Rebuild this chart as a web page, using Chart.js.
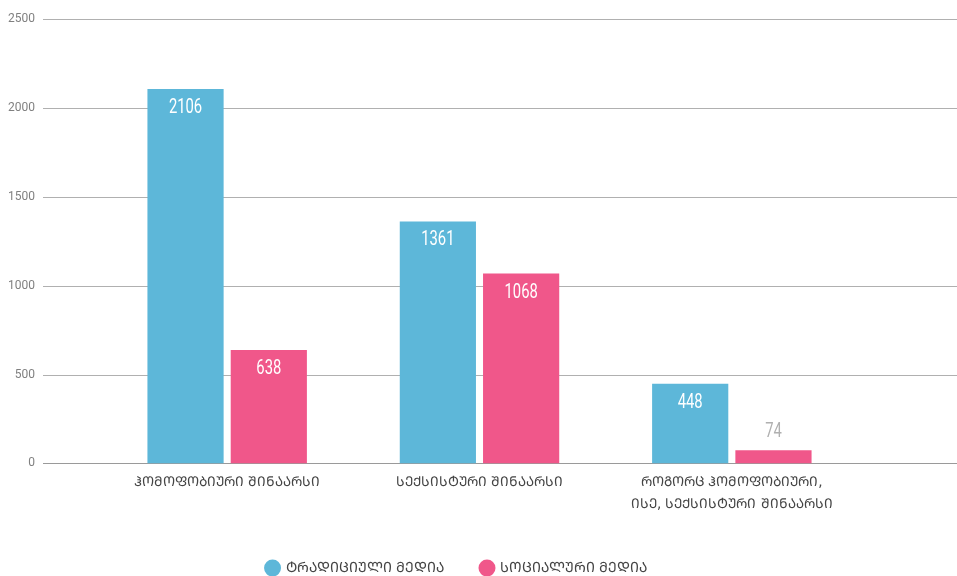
<!DOCTYPE html>
<html>
<head>
<meta charset="utf-8">
<script src="https://cdn.jsdelivr.net/npm/chart.js@4/dist/chart.umd.min.js"></script>
<style>
html,body{margin:0;padding:0;background:#fff;}
#wrap{width:957px;height:576px;position:relative;}
</style>
</head>
<body>
<div id="wrap"><canvas id="c" width="957" height="576"></canvas></div>
<script>
const categories = [
  "ჰომოფობიური შინაარსი",
  "სექსისტური შინაარსი",
  ["როგორც ჰომოფობიური,", "ისე, სექსისტური შინაარსი"]
];
const seriesNames = ["ტრადიციული მედია", "სოციალური მედია"];
const traditionalMedia = [2106, 1361, 448];
const socialMedia = [638, 1068, 74];
const yTicks = [0, 500, 1000, 1500, 2000, 2500];

const up = s => Array.isArray(s) ? s.map(x => x.toUpperCase()) : s.toUpperCase();
const numFont = "Roboto, 'Liberation Sans', sans-serif";
const geoFont = "'DejaVu Sans', 'Noto Sans', sans-serif";

const fullGrid = {
  id: 'fullGrid',
  beforeDatasetsDraw(chart) {
    const y = chart.scales.y;
    const ctx = chart.ctx;
    ctx.save();
    ctx.lineWidth = 1;
    y.ticks.forEach(t => {
      const py = Math.round(y.getPixelForValue(t.value)) + 0.5;
      ctx.strokeStyle = t.value === 0 ? '#9a9a9a' : '#b0b0b0';
      ctx.beginPath();
      ctx.moveTo(43, py);
      ctx.lineTo(chart.width, py);
      ctx.stroke();
    });
    ctx.restore();
  }
};

const legendShift = {
  id: 'legendShift',
  afterLayout(chart) {
    if (chart.legend) { chart.legend.left += 28; chart.legend.right += 28; }
  }
};

const valueLabels = {
  id: 'valueLabels',
  afterDatasetsDraw(chart) {
    const ctx = chart.ctx;
    chart.data.datasets.forEach((ds, di) => {
      const meta = chart.getDatasetMeta(di);
      meta.data.forEach((bar, i) => {
        const h = bar.base - bar.y;
        const inside = h > 40;
        const ty = inside ? bar.y + 19 : bar.y - 18;
        ctx.save();
        ctx.translate(bar.x, ty);
        ctx.scale(0.74, 1);
        ctx.font = "20px " + numFont;
        ctx.textAlign = 'center';
        ctx.textBaseline = 'middle';
        ctx.fillStyle = inside ? '#ffffff' : '#b0b0b0';
        ctx.fillText(String(ds.data[i]), 0, 0);
        ctx.restore();
      });
    });
  }
};

new Chart(document.getElementById('c'), {
  type: 'bar',
  data: {
    labels: categories.map(up),
    datasets: [
      { label: up(seriesNames[0]), data: traditionalMedia, backgroundColor: '#5db7d9', categoryPercentage: 0.66, barPercentage: 0.915 },
      { label: up(seriesNames[1]), data: socialMedia, backgroundColor: '#f0578a', categoryPercentage: 0.66, barPercentage: 0.915 }
    ]
  },
  options: {
    responsive: false,
    animation: false,
    layout: { padding: { left: 0, right: 99, top: 19, bottom: -9 } },
    scales: {
      y: {
        min: 0, max: 2500,
        afterBuildTicks(scale) { scale.ticks = yTicks.map(v => ({ value: v })); },
        afterFit(scale) { scale.width = 101; scale.paddingTop = 6; scale.paddingBottom = 6; },
        grid: { display: false, drawTicks: false },
        border: { display: false },
        ticks: { padding: 66, color: '#808080', font: { family: numFont, size: 12 }, callback: v => String(v) }
      },
      x: {
        grid: { display: false, drawTicks: false },
        border: { display: false },
        ticks: { padding: 8, color: '#444', font: { family: geoFont, size: 13.5, lineHeight: 1.65 } }
      }
    },
    plugins: {
      legend: {
        position: 'bottom',
        labels: { usePointStyle: true, pointStyle: 'circle', boxWidth: 12, boxHeight: 12, padding: 37, color: '#444', font: { family: geoFont, size: 14 } }
      },
      tooltip: { enabled: false }
    }
  },
  plugins: [fullGrid, valueLabels, legendShift]
});
</script>
</body>
</html>
